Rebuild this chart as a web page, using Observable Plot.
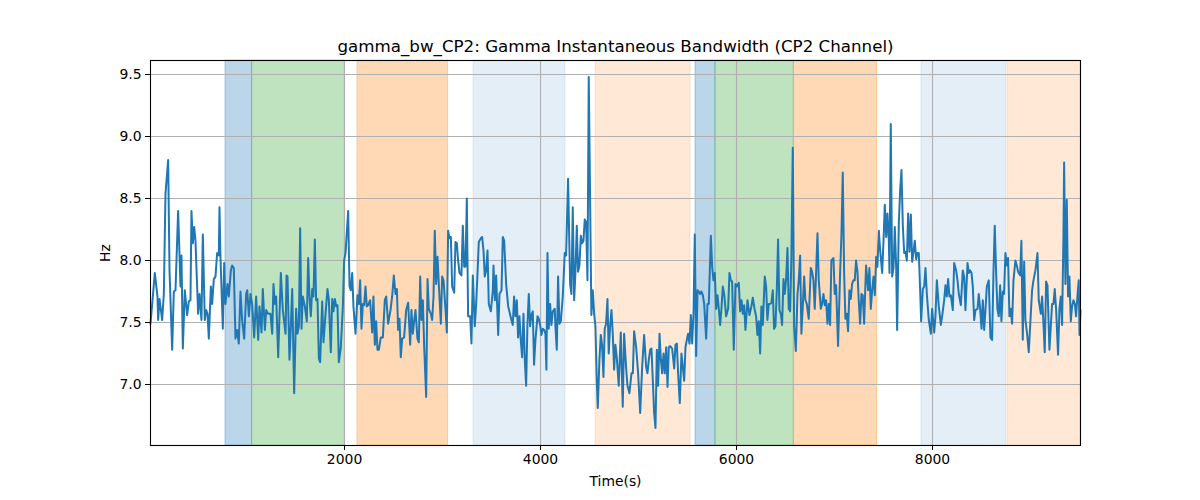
<!DOCTYPE html>
<html><head><meta charset="utf-8">
<script src="https://cdn.jsdelivr.net/npm/d3@7"></script>
<script src="https://cdn.jsdelivr.net/npm/@observablehq/plot@0.6"></script>
<style>body{margin:0;background:#fff}#chart{width:1200px;height:500px}</style>
</head><body><div id="chart"></div>
<script>
const titleText = "gamma_bw_CP2: Gamma Instantaneous Bandwidth (CP2 Channel)";
const xLabel = "Time(s)";
const yLabel = "Hz";
const xTicks = [2000, 4000, 6000, 8000];
const yTicks = [7.0, 7.5, 8.0, 8.5, 9.0, 9.5];

const times = [
20,64,91,98,112,139,156,173,200,214,241,258,275,302,326,336,350,370,394,411,428,438,452,466,479,506,520,540,554,574,588,602,615,636,649,666,683,700,717,724,734,758,772,785,806,819,840,853,870,887,904,921,938,955,976,996,1007,1024,1040,1057,1078,1098,1119,1132,1153,1166,1187,1201,1221,
1245,1262,1275,1289,1302,1323,1350,1370,1398,1408,1418,1438,1452,1466,1486,1506,1520,1534,1547,1561,1574,1595,1615,1629,1642,1656,1670,1683,1697,1710,1724,1738,1751,1772,1785,1806,1826,1840,1860,1874,1887,1901,1915,1928,1942,1962,1983,1996,2010,2023,2037,2051,2064,2078,2091,2112,2132,2146,2159,2173,2187,2200,2214,2227,2241,2261,2282,2295,2309,2323,2336,2350,2370,2391,2411,2425,2445,
2469,2486,2503,2520,2534,2547,2561,2574,2588,2608,2629,2649,2670,2683,2697,2710,2724,2744,2758,2772,2785,2799,2813,2833,2847,2860,2881,2894,2908,2921,2935,2949,2962,2983,2996,3010,3030,3044,3057,3071,3085,3098,3119,3132,3146,3159,3173,3193,3207,3221,3234,3248,3261,3282,3295,3309,3329,3343,3357,3370,3391,3404,3418,3431,3445,3459,3472,3493,3513,3520,3534,3547,3568,3581,3602,3615,3629,3649,3670,
3703,3717,3730,3744,3758,3771,3785,3798,3812,3826,3839,3853,3866,3880,3894,3907,3921,3934,3948,3969,3982,3996,4009,4023,4037,4050,4060,4071,4084,4098,4111,4125,4145,4152,4166,4179,4193,4207,4227,4247,4261,4281,4302,4315,4329,4343,4356,4370,4383,4397,4411,4424,4438,4451,4465,4479,4492,4519,4533,4547,4560,4574,4584,4601,4615,4628,4642,4655,4669,4683,4696,4710,4724,4737,4751,4764,4778,4798,4819,4839,4853,4873,4887,4907,
4928,4942,4955,4976,4996,5017,5037,5057,5078,5091,5105,5119,5132,5146,5159,5173,5187,5200,5214,5228,5241,5255,5268,5282,5296,5309,5323,5343,5364,5377,5391,5404,5421,5438,5452,5466,5479,5493,5506,5520,5534,5547,5561,5574,5588,5602,5615,5629,5642,5656,5670,5690,5704,5717,5738,5751,5765,5778,5792,5806,5819,5833,5846,5860,5874,5894,5914,5928,5942,5955,5972,5989,6003,6023,6037,6051,6064,6078,6091,6112,6132,
6152,6166,6186,6200,6213,6227,6241,6254,6268,6288,6302,6315,6329,6343,6356,6370,6383,6397,6411,6424,6438,6452,6465,6479,6492,6506,6520,6533,6547,6560,6574,6588,6605,6622,6635,6649,6662,6676,6690,6703,6717,6737,6758,6771,6785,6798,6812,6826,6839,6860,6873,6887,6900,6914,6928,6941,6955,6968,6989,7002,7016,7036,7057,7070,7084,7098,7111,7125,7138,7152,7166,7179,7193,7206,7220,7234,7247,7261,7275,7288,7302,7322,7343,7356,
7370,7384,7398,7411,7425,7438,7452,7466,7486,7500,7513,7527,7540,7554,7561,7574,7588,7602,7615,7629,7639,7656,7670,7683,7697,7711,7724,7738,7751,7765,7779,7792,7806,7819,7833,7847,7860,7874,7884,7901,7915,7928,7942,7962,7983,7996,8017,8030,8044,8064,8085,8098,8119,8132,8146,8159,8173,8187,8207,8221,8241,8255,8268,8289,8309,8323,8336,8357,8370,8384,8398,8411,8425,8438,8459,8472,8486,8500,8513,8527,8540,8554,8574,8591,
8608,8622,8635,8649,8662,8676,8690,8703,8717,8730,8744,8758,8771,8785,8798,8812,8826,8846,8860,8873,8894,8907,8921,8935,8948,8965,8982,9003,9016,9030,9050,9071,9084,9105,9118,9132,9145,9159,9173,9193,9207,9220,9234,9247,9261,9281,9295,9309,9322,9336,9343,9356,9370,9383,9397,9411,9424,9438,9452,9465,9479,9492,9500,9510
];

const values = [
7.49,7.90,7.71,7.52,7.69,7.52,7.73,8.54,8.81,7.92,7.28,7.75,7.76,8.40,7.79,8.04,7.29,7.76,7.56,7.67,7.68,8.40,8.14,8.27,8.16,7.57,7.73,7.52,8.21,7.52,7.60,7.57,7.37,7.79,7.65,7.85,7.87,8.06,8.04,8.43,8.03,7.45,7.98,7.65,7.81,7.71,7.92,7.96,7.94,7.37,7.44,7.33,7.75,7.52,7.37,7.73,7.76,7.55,7.73,7.65,7.38,7.71,7.36,7.63,7.42,7.77,7.44,7.60,7.57,
7.57,7.41,7.81,7.65,7.71,7.22,7.90,7.60,7.41,7.88,7.87,7.20,7.47,7.77,6.93,7.61,7.41,7.47,8.26,7.45,7.71,7.63,7.51,8.02,7.71,7.55,7.77,7.71,8.17,7.68,7.69,7.21,7.18,7.67,7.34,7.57,7.77,7.68,7.26,7.69,7.59,7.69,7.63,7.64,7.18,7.30,7.63,8.00,8.06,8.22,8.40,7.79,7.76,7.90,7.63,7.41,7.72,7.65,7.84,7.45,7.65,7.64,7.79,7.63,7.64,7.68,7.42,7.71,7.32,7.51,7.28,7.28,7.38,7.38,7.68,7.71,7.49,
7.60,7.71,7.88,7.73,7.77,7.44,7.53,7.22,7.37,7.38,7.60,7.66,7.32,7.60,7.41,7.51,7.60,7.37,7.34,7.87,7.52,7.68,7.30,6.90,7.85,7.61,7.57,7.52,7.71,8.24,7.81,8.03,7.81,7.49,7.87,7.84,7.61,7.42,8.24,8.18,8.19,7.79,7.74,8.15,8.14,8.00,7.90,7.88,8.28,7.95,7.95,8.50,7.55,7.55,7.33,7.88,7.47,7.65,7.90,8.15,8.18,8.19,8.08,7.87,7.92,8.08,7.65,7.59,7.76,7.96,7.68,7.88,7.40,7.73,7.76,8.19,8.16,7.81,7.63,
7.52,7.48,7.71,7.55,7.68,7.38,7.55,7.36,7.22,7.57,7.21,6.99,7.47,7.73,7.47,7.56,7.59,7.16,7.36,7.55,7.53,7.48,7.40,7.45,7.44,7.41,7.12,8.06,7.45,7.65,7.48,7.59,7.61,7.47,7.28,7.87,7.49,7.51,7.71,8.06,8.04,8.66,7.81,7.73,8.43,7.68,7.90,8.28,7.91,7.96,8.20,8.14,8.16,8.33,8.31,7.84,9.48,7.56,7.76,7.57,7.47,7.03,6.81,7.20,7.40,7.32,7.06,7.45,7.49,7.69,7.25,7.47,7.60,7.41,7.12,7.32,7.22,6.99,7.42,6.82,7.41,7.14,6.99,6.93,
7.09,7.09,7.43,7.30,7.09,6.77,7.14,7.40,7.14,7.09,7.20,7.28,7.29,7.03,6.77,6.65,7.28,6.99,7.41,7.20,7.09,7.25,7.09,7.30,6.98,7.30,7.31,7.29,7.13,7.32,7.33,7.09,6.85,7.25,7.14,7.03,7.30,7.36,7.41,7.33,7.56,7.33,7.57,8.21,7.23,7.76,7.75,7.73,7.75,7.72,7.65,7.37,7.65,7.65,8.20,7.95,7.84,7.90,7.61,7.72,7.61,7.48,7.61,7.79,7.73,7.55,7.61,7.90,7.84,7.83,7.28,7.81,7.79,7.82,7.59,7.68,7.57,7.64,7.44,7.68,7.56,
7.63,7.70,7.60,7.55,7.40,7.51,7.25,7.63,7.48,7.87,7.79,7.52,7.65,7.65,7.66,7.76,7.45,7.47,7.76,8.17,7.60,7.57,7.48,7.85,7.73,7.85,8.10,7.61,7.59,8.03,8.91,7.47,7.27,7.73,7.84,8.04,7.41,7.63,7.87,7.68,7.65,7.53,7.94,7.91,7.84,7.61,7.90,8.22,7.84,7.61,7.65,7.73,7.64,7.68,7.49,7.65,7.48,8.00,8.02,7.73,7.80,7.31,7.90,8.19,8.71,7.90,7.53,7.57,7.43,7.76,7.69,7.81,7.84,7.84,8.00,7.91,7.68,7.49,7.73,7.72,7.49,7.96,7.76,7.94,
7.61,7.76,7.87,7.72,8.03,7.95,8.24,8.08,7.90,8.16,8.45,8.19,8.38,8.16,7.90,9.10,7.87,7.94,8.27,7.95,7.44,8.30,8.57,8.73,8.28,8.06,8.07,8.00,8.38,8.07,8.37,7.99,8.07,8.16,8.01,8.06,8.06,7.76,7.51,7.77,7.79,7.94,7.73,7.52,7.41,7.61,7.42,7.55,7.84,7.63,7.48,7.55,7.68,7.80,7.71,7.85,7.71,7.72,7.60,7.98,7.92,7.84,7.73,7.64,7.92,7.87,7.60,7.98,7.90,7.92,7.90,7.79,7.52,7.60,7.61,7.73,7.61,7.45,7.68,7.44,7.60,7.79,7.84,7.38,
7.36,7.91,8.28,7.90,7.61,7.55,7.80,7.51,7.75,7.73,8.06,7.96,8.02,7.55,7.61,7.49,7.84,8.00,7.96,7.91,7.88,8.16,7.36,7.99,7.52,7.41,7.26,7.57,7.76,7.84,7.92,8.06,7.68,7.57,7.71,7.49,7.26,7.83,7.80,7.28,7.47,7.65,7.65,7.77,7.61,7.24,7.61,7.71,7.48,8.20,8.79,7.81,8.49,7.71,7.87,7.51,7.63,7.68,7.65,7.55,7.72,7.84,7.40,7.60
];

const spanStarts = [785, 1057, 2132, 3316, 4561, 5581, 5785, 6585, 7887, 8765];
const spanEnds   = [1057, 2003, 3057, 4255, 5531, 5785, 6585, 7435, 8752, 9510];
const spanKinds  = ["A", "B", "C", "D", "E", "A", "B", "C", "D", "E"];

const kindStyle = {
  A: {color: "#1f77b4", alpha: 0.3},
  B: {color: "#2ca02c", alpha: 0.3},
  C: {color: "#ff7f0e", alpha: 0.3},
  D: {color: "#1f77b4", alpha: 0.12},
  E: {color: "#ff7f0e", alpha: 0.17}
};

const n = Math.min(times.length, values.length);
const series = [];
for (let i = 0; i < n; i++) series.push({t: times[i], v: values[i]});
const spans = spanStarts.map((s, i) => ({x1: s, x2: spanEnds[i], kind: spanKinds[i]}));

const chart = Plot.plot({
  width: 1200,
  height: 500,
  marginLeft: 150,
  marginRight: 120,
  marginTop: 60,
  marginBottom: 55,
  style: {fontFamily: "DejaVu Sans, sans-serif", fontSize: "13.9px", color: "#000", background: "#fff", overflow: "visible"},
  x: {domain: [20, 9510]},
  y: {domain: [6.508, 9.613]},
  marks: [
    ...Object.keys(kindStyle).map(k => Plot.rect(spans.filter(d => d.kind === k), {
      x1: "x1", x2: "x2",
      fill: kindStyle[k].color, fillOpacity: kindStyle[k].alpha,
      stroke: kindStyle[k].color, strokeOpacity: kindStyle[k].alpha, strokeWidth: 1
    })),
    Plot.gridX(xTicks, {stroke: "#b0b0b0", strokeOpacity: 1, strokeWidth: 1.1}),
    Plot.gridY(yTicks, {stroke: "#b0b0b0", strokeOpacity: 1, strokeWidth: 1.1}),
    Plot.line(series, {x: "t", y: "v", stroke: "#1f77b4", strokeWidth: 2}),
    Plot.frame({stroke: "#000", strokeWidth: 1.1}),
    Plot.axisX(xTicks, {tickSize: 5, tickPadding: 4, label: null, fontSize: 13.9, tickFormat: d => String(d)}),
    Plot.axisY(yTicks, {tickSize: 5, tickPadding: 4, label: null, fontSize: 13.9, tickFormat: d3.format(".1f")}),
    Plot.text([titleText], {frameAnchor: "top", lineAnchor: "middle", textAnchor: "middle", dy: -14, fontSize: 16.7, fill: "#000"}),
    Plot.text([xLabel], {frameAnchor: "bottom", lineAnchor: "middle", textAnchor: "middle", dy: 36, fontSize: 13.9, fill: "#000"}),
    Plot.text([yLabel], {frameAnchor: "left", lineAnchor: "middle", textAnchor: "middle", dx: -45, rotate: -90, fontSize: 13.9, fill: "#000"})
  ]
});
document.getElementById("chart").appendChild(chart);
</script>
</body></html>
